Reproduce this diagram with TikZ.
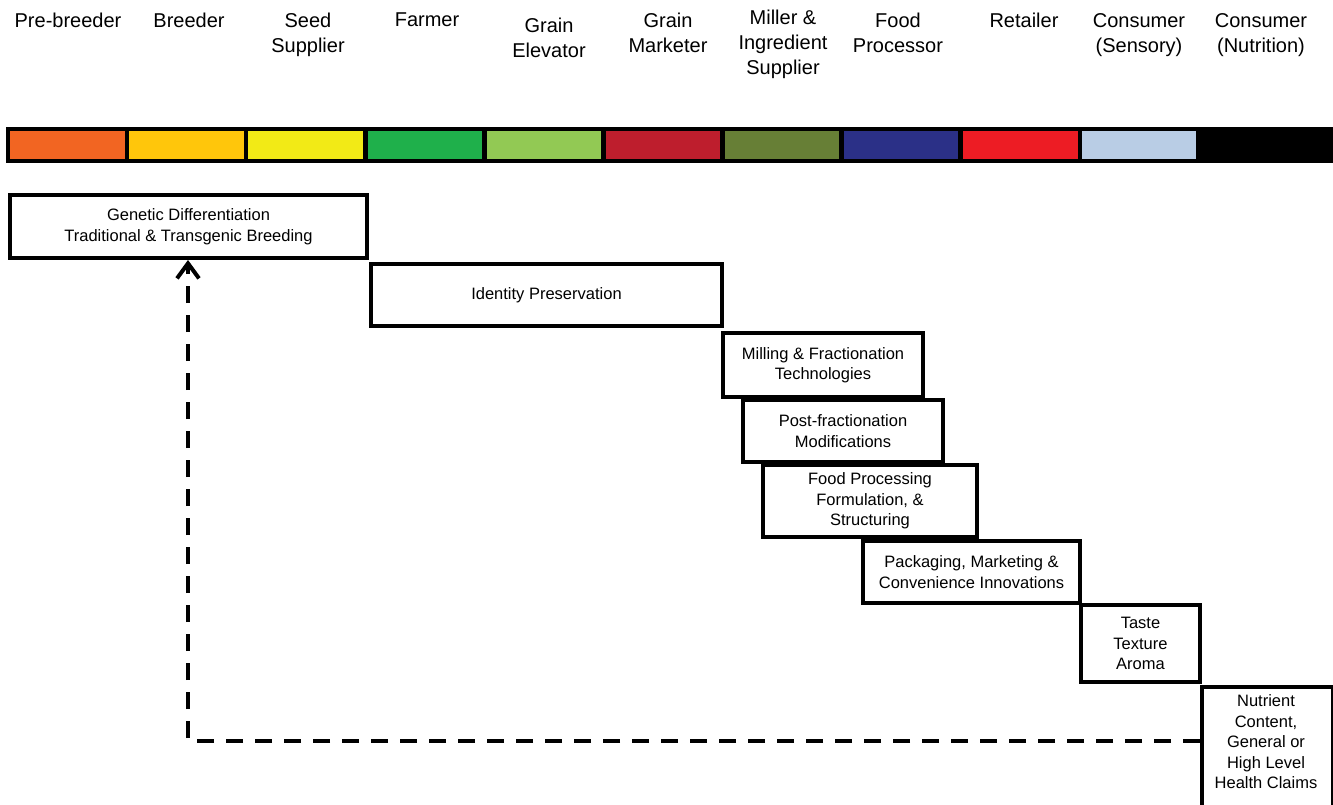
\documentclass[tikz,border=0pt]{standalone}
\usepackage{fontspec}
\setmainfont{Liberation Sans}
\usetikzlibrary{arrows.meta}
\definecolor{prebreed}{HTML}{F26522}
\definecolor{breed}{HTML}{FFC60B}
\definecolor{seed}{HTML}{F2EA16}
\definecolor{farm}{HTML}{1FB04B}
\definecolor{elevator}{HTML}{92C954}
\definecolor{marketer}{HTML}{BE1E2D}
\definecolor{miller}{HTML}{677F36}
\definecolor{processor}{HTML}{2B3087}
\definecolor{retail}{HTML}{ED1C24}
\definecolor{sensory}{HTML}{B9CDE5}
\tikzset{
  cell/.style={draw=black, line width=4.5pt, minimum width=119pt, minimum height=32pt, inner sep=0pt},
  actor/.style={anchor=north, align=center, inner sep=0pt, font=\fontsize{20}{25}\selectfont},
  stage/.style={draw=black, line width=4pt, align=center, inner sep=0pt, font=\fontsize{16.5}{20.5}\selectfont},
  stagetext/.style={align=center, inner sep=0pt, font=\fontsize{16.5}{20.5}\selectfont},
  feedback/.style={line width=4pt, dash pattern=on 17pt off 12pt}
}
\begin{document}
\begin{tikzpicture}[x=1pt,y=-1pt]
    \useasboundingbox (0,0) rectangle (1333,805);
    % supply chain colour bar
    \foreach \i/\col in {0/prebreed,1/breed,2/seed,3/farm,4/elevator,5/marketer,6/miller,7/processor,8/retail,9/sensory}
        \node[cell, fill=\col] (cell\i) at ({67.5+119.1*\i},145) {};
    \node[cell, fill=black, minimum width=133pt] (cell10) at (1264.5,145) {};
    % actors
    \node[actor] (prebreeder) at (68,13) {Pre-breeder};
    \node[actor] (breeder) at (189,13) {Breeder};
    \node[actor] (supplier) at (308,13) {Seed\\Supplier};
    \node[actor] (farmer) at (427,13) {Farmer};
    \node[actor] (elevator) at (549,18) {Grain\\Elevator};
    \node[actor] (marketer) at (668,13) {Grain\\Marketer};
    \node[actor] (millsupp) at (783,10) {Miller \&\\Ingredient\\Supplier};
    \node[actor] (processor) at (898,13) {Food\\Processor};
    \node[actor] (retailer) at (1024,13) {Retailer};
    \node[actor] (sensory) at (1139,13) {Consumer\\(Sensory)};
    \node[actor] (nutrition) at (1261,13) {Consumer\\(Nutrition)};
    % value chain stages
    \node[stage, minimum width=357pt, minimum height=63pt] (genetic) at (188.5,226.5) {Genetic Differentiation\\Traditional \& Transgenic Breeding};
    \node[stage, minimum width=351pt, minimum height=62pt] (identity) at (546.5,295) {Identity Preservation};
    \node[stage, minimum width=200pt, minimum height=64pt] (milling) at (823,365) {Milling \& Fractionation\\Technologies};
    \node[stage, minimum width=200pt, minimum height=62pt] (postfrac) at (843,431) {Post-fractionation\\Modifications};
    \node[stage, minimum width=214pt, minimum height=72pt] (foodproc) at (870,501) {Food Processing\\Formulation, \&\\Structuring};
    \node[stage, minimum width=217pt, minimum height=62pt] (packaging) at (971.5,572) {Packaging, Marketing \&\\Convenience Innovations};
    \node[stage, minimum width=119pt, minimum height=77pt] (taste) at (1140.5,643.5) {Taste\\Texture\\Aroma};
    \node[stage, minimum width=131pt, minimum height=150pt, anchor=north west] (nutrient) at (1200,685) {};
    \node[stagetext] (nutrienttext) at (1266,742) {Nutrient\\Content,\\General or\\High Level\\Health Claims};
    % feedback loop
    \coordinate (corner) at (188,741);
    \draw[feedback, -{Straight Barb[length=15pt,width=22pt]}] (nutrient.west |- corner) -- (corner) -- (genetic.south -| corner);
\end{tikzpicture}
\end{document}
